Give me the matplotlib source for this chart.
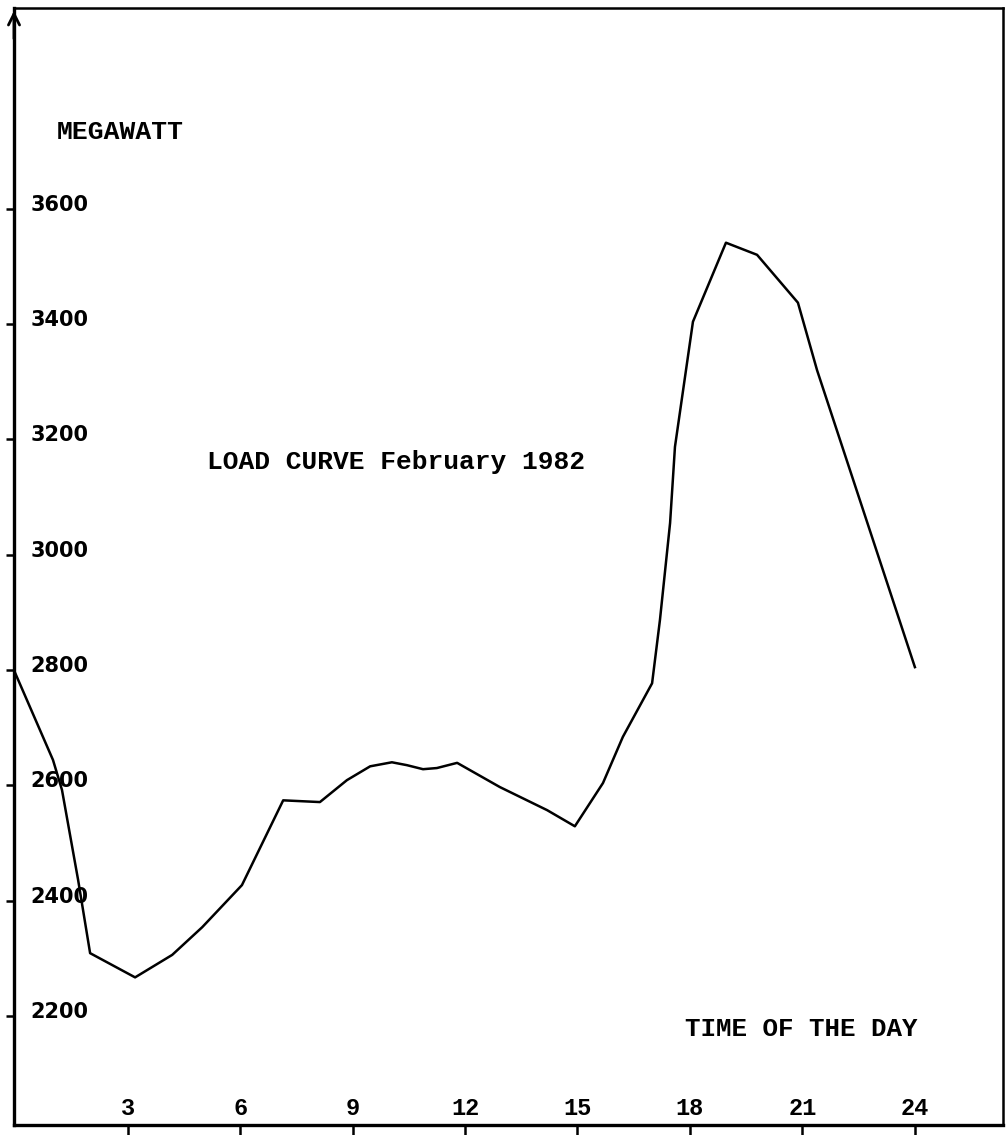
import matplotlib.pyplot as plt
import matplotlib.transforms as mtransforms

# load curve (hour of day, megawatt)
hours = [0.0, 1.01, 1.25, 1.68, 2.0, 3.2, 4.19, 4.99, 6.05, 7.15, 8.13, 8.85,
         9.47, 10.05, 10.45, 10.88, 11.25, 11.79, 12.93, 14.19, 14.93, 15.68,
         16.21, 16.99, 17.2, 17.47, 17.6, 18.08, 18.96, 19.79, 20.88, 21.39, 24.0]
load_mw = [2795, 2644, 2592, 2436, 2309, 2267, 2306, 2354, 2427, 2574, 2571, 2609,
           2633, 2640, 2635, 2628, 2630, 2639, 2597, 2557, 2529, 2604,
           2684, 2777, 2887, 3055, 3187, 3404, 3541, 3520, 3437, 3320, 2805]

y_ticks = [2200, 2400, 2600, 2800, 3000, 3200, 3400, 3600]
x_ticks = [3, 6, 9, 12, 15, 18, 21, 24]

mono = ['Liberation Mono', 'DejaVu Sans Mono']

fig = plt.figure(figsize=(10.07, 11.35), dpi=100)
ax = fig.add_axes([14 / 1007, 10 / 1135, 989 / 1007, 1117 / 1135])

ax.plot(hours, load_mw, color='black', linewidth=1.8)

ax.set_xlim(-0.03, 26.35)
ax.set_ylim(2011, 3948)

for side in ['left', 'bottom']:
    ax.spines[side].set_linewidth(2.4)
for side in ['top', 'right']:
    ax.spines[side].set_linewidth(1.8)

ax.set_yticks(y_ticks)
ax.set_yticklabels([])
ax.tick_params(axis='y', direction='out', length=6, width=1.8)
ax.set_xticks(x_ticks)
ax.set_xticklabels([])
ax.tick_params(axis='x', direction='out', length=8, width=1.8)

# tick labels sit inside the frame, as on the original
ytrans = mtransforms.offset_copy(ax.get_yaxis_transform(), fig=fig, x=12, y=3, units='points')
for v in y_ticks:
    ax.text(0, v, str(v), transform=ytrans, ha='left', va='center',
            fontsize=15, fontweight='bold', family='DejaVu Sans')

xtrans = mtransforms.offset_copy(ax.get_xaxis_transform(), fig=fig, x=0, y=12, units='points')
for v in x_ticks:
    ax.text(v, 0, str(v), transform=xtrans, ha='center', va='center',
            fontsize=17, fontweight='bold', family=mono)

# arrow on the vertical axis
ax.annotate('', xy=(0, 1.0), xytext=(0, 0.97), xycoords='axes fraction',
            arrowprops=dict(arrowstyle='->', color='black', lw=2, mutation_scale=20),
            annotation_clip=False)

ax.text(1.12, 3733, 'MEGAWATT', ha='left', va='center', fontsize=19,
        fontweight='bold', family=mono)
ax.text(5.12, 3161, 'LOAD CURVE February 1982', ha='left', va='center', fontsize=18.9,
        fontweight='bold', family=mono)
ax.text(17.87, 2177, 'TIME OF THE DAY', ha='left', va='center', fontsize=18.6,
        fontweight='bold', family=mono)

fig.savefig('out.png', dpi=100)
